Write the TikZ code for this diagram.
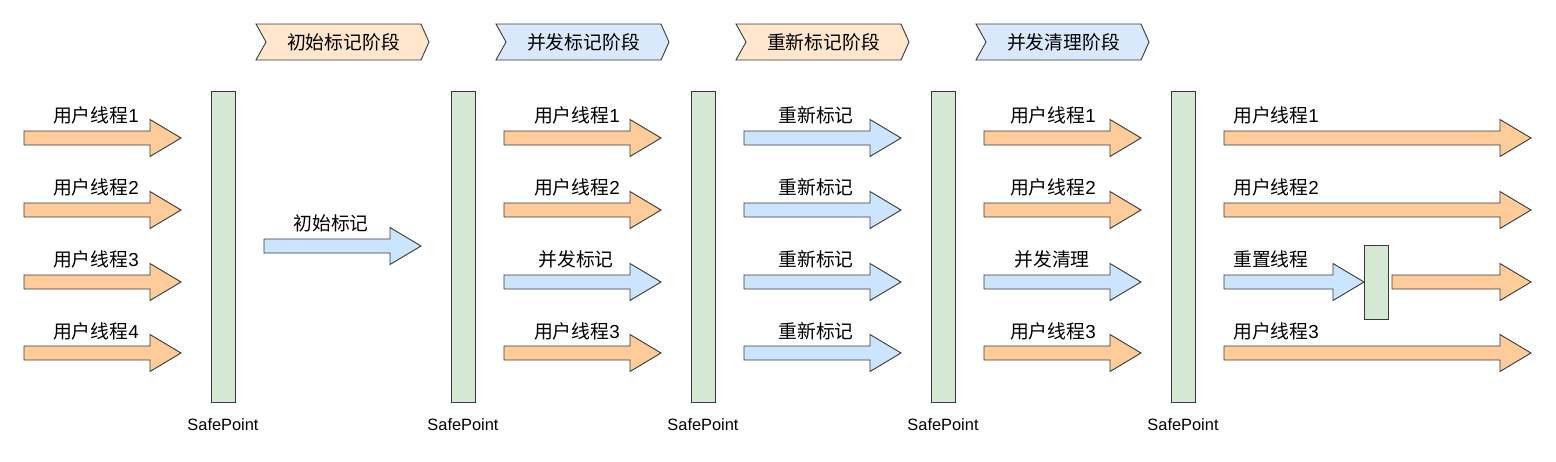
\documentclass[tikz,border=0pt]{standalone}
\usepackage{fontspec}
\setmainfont{Liberation Sans}
\newfontfamily\cjk{Noto Sans CJK SC}
\definecolor{arrO}{HTML}{FFCC99}
\definecolor{arrB}{HTML}{CCE5FF}
\definecolor{hdrO}{HTML}{FFE6CC}
\definecolor{hdrB}{HTML}{DAE8FC}
\definecolor{barG}{HTML}{D5E8D4}
\definecolor{edge}{HTML}{36393D}
\newcommand\farrow[4]{%
  \filldraw[fat,fill=#4] (#1,#3-7) -- (#2-31,#3-7) -- (#2-31,#3-18.5) -- (#2,#3) -- (#2-31,#3+18.5) -- (#2-31,#3+7) -- (#1,#3+7) -- cycle;}
\newcommand\phasehdr[4]{%
  \filldraw[fat,fill=#3] (#1,24) -- (#2-8,24) -- (#2,42) -- (#2-8,60) -- (#1,60) -- (#1+10,42) -- cycle;
  \node[lbl] (#4) at ({(#1+#2)/2+1},42) {};}
\begin{document}
\begin{tikzpicture}[x=1pt,y=-1pt,
  fat/.style={draw=edge,line width=0.9pt,line join=miter},
  lbl/.style={inner sep=0pt,font=\fontsize{18.8}{21}\selectfont\cjk},
  sp/.style={inner sep=0pt,font=\fontsize{16.4}{18}\selectfont},
  bar/.style={draw=edge,fill=barG,line width=0.9pt,minimum width=24pt,minimum height=311pt,inner sep=0pt}]
\useasboundingbox (0,0) rectangle (1556,461);
% phase headers
\phasehdr{256}{429}{hdrO}{h1}
\node[lbl] at (h1) {初始标记阶段};
\phasehdr{496}{669}{hdrB}{h2}
\node[lbl] at (h2) {并发标记阶段};
\phasehdr{736}{909}{hdrO}{h3}
\node[lbl] at (h3) {重新标记阶段};
\phasehdr{976}{1149}{hdrB}{h4}
\node[lbl] at (h4) {并发清理阶段};
% safepoint bars
\foreach \i/\x in {1/223,2/463,3/703,4/943,5/1183}{
  \node[bar] (b\i) at (\x,246.5) {};
  \node[sp] (s\i) at (\x,425) {SafePoint};
}
% column 1
\farrow{24}{181}{138}{arrO}
\farrow{24}{181}{210}{arrO}
\farrow{24}{181}{282}{arrO}
\farrow{24}{181}{353}{arrO}
\node[lbl] (l11) at (96,115) {用户线程{\rmfamily 1}};
\node[lbl] (l12) at (96,187) {用户线程{\rmfamily 2}};
\node[lbl] (l13) at (96,259) {用户线程{\rmfamily 3}};
\node[lbl] (l14) at (96,331) {用户线程{\rmfamily 4}};
% column 2
\farrow{264}{421}{246}{arrB}
\node[lbl] (l21) at (331,223) {初始标记};
% column 3
\farrow{504}{661}{138}{arrO}
\farrow{504}{661}{210}{arrO}
\farrow{504}{661}{282}{arrB}
\farrow{504}{661}{353}{arrO}
\node[lbl] (l31) at (577,115) {用户线程{\rmfamily 1}};
\node[lbl] (l32) at (577,187) {用户线程{\rmfamily 2}};
\node[lbl] (l33) at (576,259) {并发标记};
\node[lbl] (l34) at (577,331) {用户线程{\rmfamily 3}};
% column 4
\farrow{744}{901}{138}{arrB}
\farrow{744}{901}{210}{arrB}
\farrow{744}{901}{282}{arrB}
\farrow{744}{901}{353}{arrB}
\node[lbl] (l41) at (816,115) {重新标记};
\node[lbl] (l42) at (816,187) {重新标记};
\node[lbl] (l43) at (816,259) {重新标记};
\node[lbl] (l44) at (816,331) {重新标记};
% column 5
\farrow{984}{1141}{138}{arrO}
\farrow{984}{1141}{210}{arrO}
\farrow{984}{1141}{282}{arrB}
\farrow{984}{1141}{353}{arrO}
\node[lbl] (l51) at (1053,115) {用户线程{\rmfamily 1}};
\node[lbl] (l52) at (1053,187) {用户线程{\rmfamily 2}};
\node[lbl] (l53) at (1052,259) {并发清理};
\node[lbl] (l54) at (1053,331) {用户线程{\rmfamily 3}};
% column 6
\farrow{1224}{1531}{138}{arrO}
\farrow{1224}{1531}{210}{arrO}
\farrow{1224}{1364}{282}{arrB}
\node[draw=edge,fill=barG,line width=0.9pt,minimum width=24pt,minimum height=74pt,inner sep=0pt] (rb) at (1376,282) {};
\farrow{1392}{1531}{282}{arrO}
\farrow{1224}{1531}{353}{arrO}
\node[lbl,anchor=west] (l61) at (1233,115) {用户线程{\rmfamily 1}};
\node[lbl,anchor=west] (l62) at (1233,187) {用户线程{\rmfamily 2}};
\node[lbl,anchor=west] (l63) at (1233,259) {重置线程};
\node[lbl,anchor=west] (l64) at (1233,331) {用户线程{\rmfamily 3}};
\end{tikzpicture}
\end{document}
